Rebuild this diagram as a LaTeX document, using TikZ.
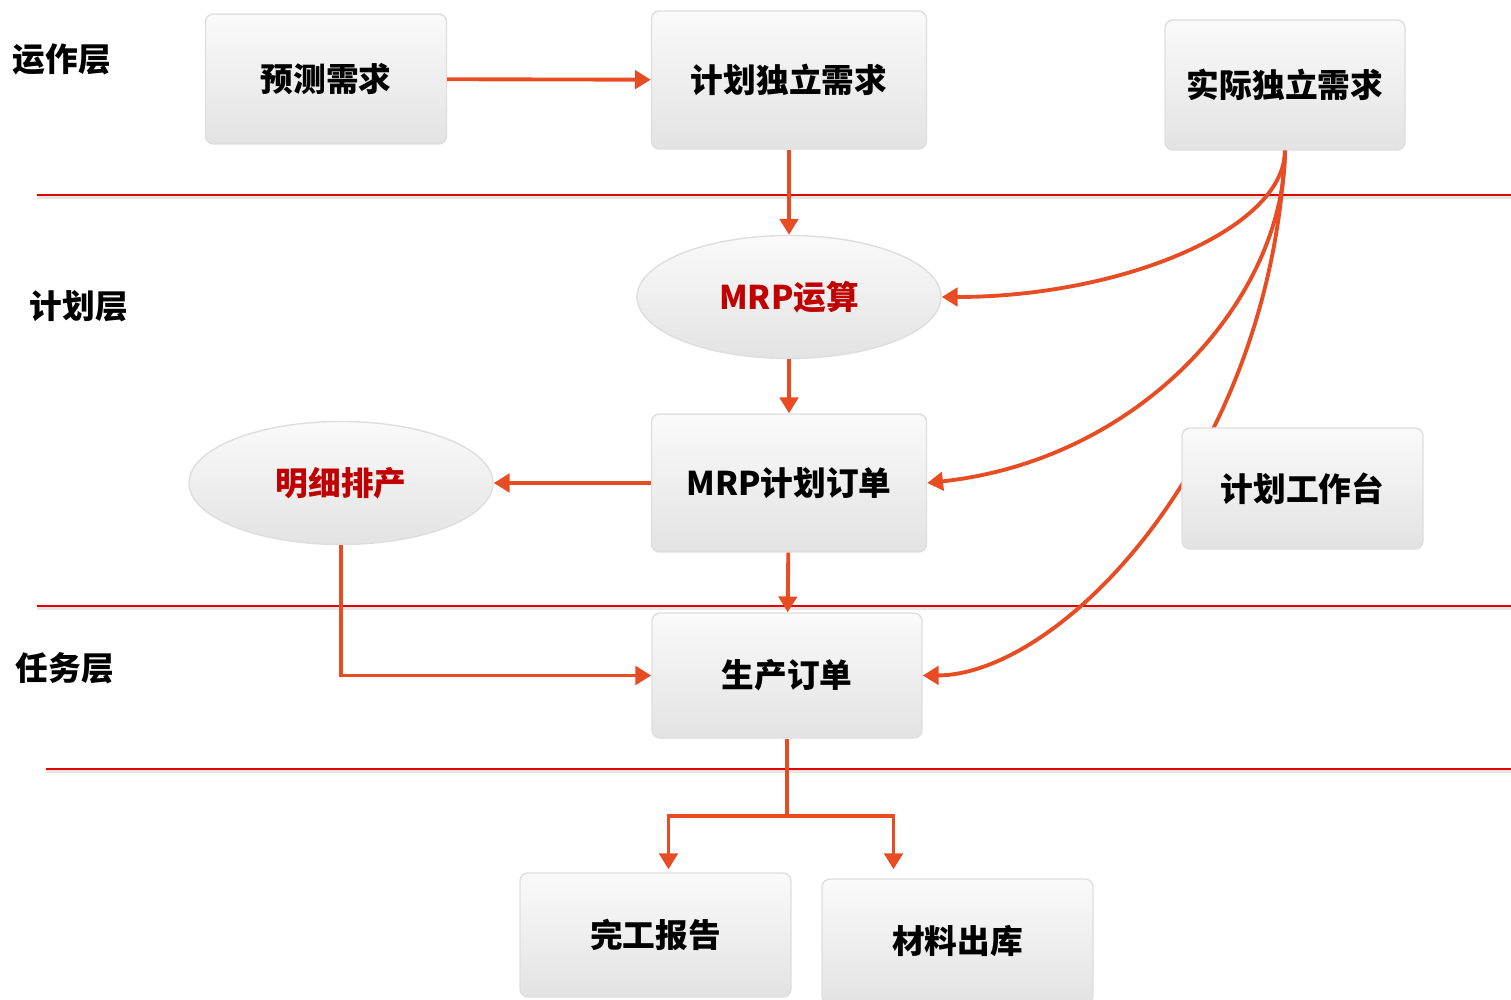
\documentclass[tikz,border=0pt]{standalone}
\usepackage{fontspec}
\setmainfont{Noto Sans CJK SC}[BoldFont={Noto Sans CJK SC Black}]
\usetikzlibrary{arrows.meta,shapes.geometric}
\definecolor{flowred}{RGB}{232,76,34}
\definecolor{textred}{RGB}{192,0,0}
\definecolor{rimgray}{RGB}{222,222,222}
\tikzset{
  box/.style={draw=rimgray, rounded corners=0.08cm, top color=gray!4, bottom color=gray!22, inner sep=0pt, font=\bfseries\fontsize{9.3}{11}\selectfont},
  oval/.style={ellipse, draw=rimgray, top color=gray!4, bottom color=gray!22, inner sep=0pt, minimum width=3.04cm, minimum height=1.23cm, text=textred, font=\bfseries\fontsize{9.3}{11}\selectfont},
  layer/.style={font=\bfseries\fontsize{9.3}{11}\selectfont},
  flow/.style={draw=flowred, line width=1.1pt, -{Triangle[length=4.5pt,width=5.2pt]}},
  divider/.style={draw=red!90!black, line width=0.4pt}
}
\begin{document}
\begin{tikzpicture}
\useasboundingbox (0,0) rectangle (15.11,-10);
% layer dividers
\foreach \y/\x in {1.95/0.37, 6.06/0.37, 7.69/0.46} {
  \draw[gray!20, line width=0.6pt] (\x,-\y-0.025) -- (15.11,-\y-0.025);
  \draw[divider] (\x,-\y) -- (15.11,-\y);
}
\node[layer] (opl) at (0.62,-0.59) {运作层};
\node[layer] (pll) at (0.79,-3.06) {计划层};
\node[layer] (tal) at (0.65,-6.68) {任务层};
% nodes
\node[box, minimum width=2.41cm, minimum height=1.30cm] (forecast) at (3.26,-0.79) {预测需求};
\node[box, minimum width=2.75cm, minimum height=1.38cm] (plan) at (7.89,-0.80) {计划独立需求};
\node[box, minimum width=2.40cm, minimum height=1.30cm] (real) at (12.85,-0.85) {实际独立需求};
\node[oval] (mrp) at (7.89,-2.97) {MRP运算};
\node[box, minimum width=2.75cm, minimum height=1.38cm] (order) at (7.89,-4.83) {MRP计划订单};
\node[oval] (detail) at (3.41,-4.83) {明细排产};
\node[box, minimum width=2.70cm, minimum height=1.25cm] (prod) at (7.87,-6.755) {生产订单};
\node[box, minimum width=2.71cm, minimum height=1.24cm] (report) at (6.555,-9.35) {完工报告};
\node[box, minimum width=2.71cm, minimum height=1.25cm] (stock) at (9.575,-9.415) {材料出库};
% connectors
\draw[flow] (forecast) -- (plan);
\draw[flow] (plan) -- (mrp);
\draw[flow] (mrp) -- (order);
\draw[flow] (order) -- (detail);
\draw[flow] (order) -- (prod);
\draw[flow] (detail.south) |- (prod.west);
\draw[flow] (real.south) .. controls (12.84,-2.30) and (11.20,-2.97) .. (mrp.east);
\draw[flow] (real.south) .. controls (12.84,-3.00) and (11.40,-4.60) .. (order.east);
\draw[flow] (real.south) .. controls (12.70,-4.60) and (10.60,-6.75) .. (prod.east);
\node[box, minimum width=2.41cm, minimum height=1.21cm] (bench) at (13.025,-4.885) {计划工作台};
\coordinate (fork) at (7.87,-8.16);
\draw[flow] (prod.south) -- (fork) -| ([xshift=0.13cm,yshift=0.03cm]report.north);
\draw[flow] (fork) -| ([xshift=-0.64cm,yshift=0.09cm]stock.north);
\end{tikzpicture}
\end{document}
